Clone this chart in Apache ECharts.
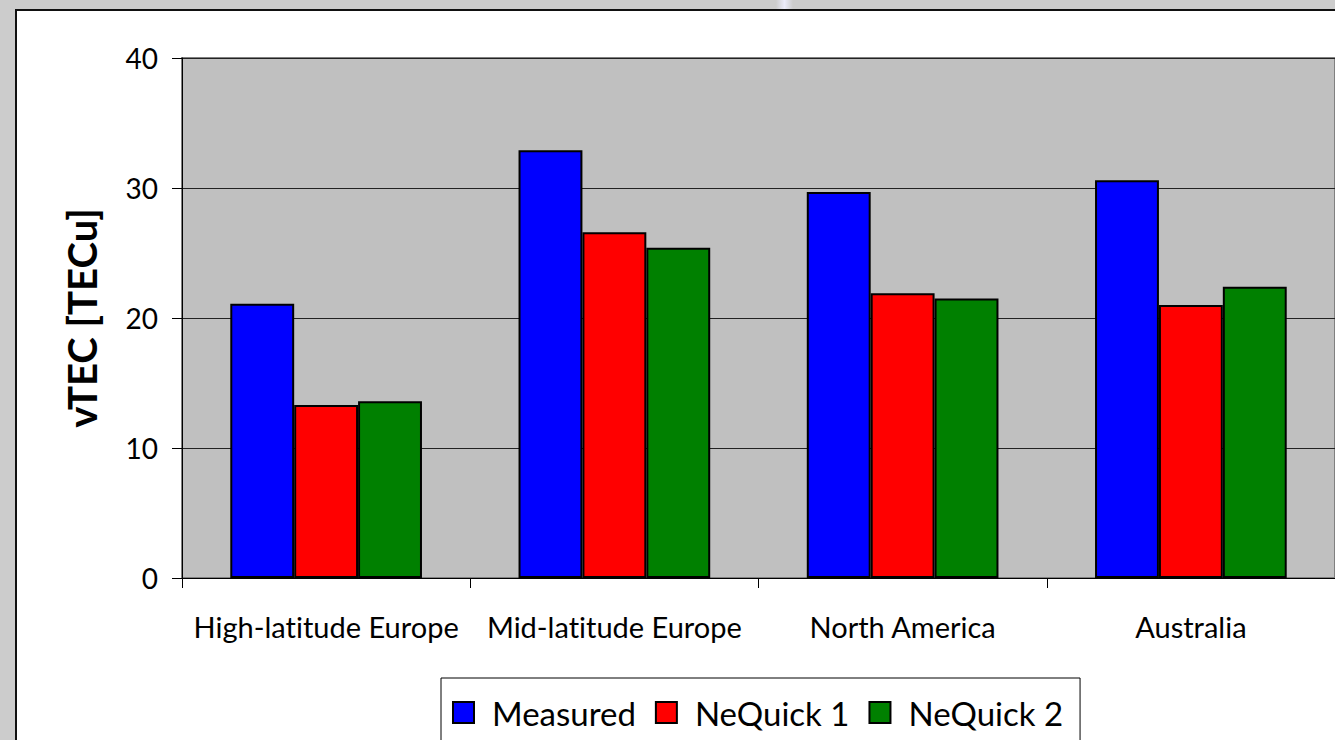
<!DOCTYPE html>
<html>
<head>
<meta charset="utf-8">
<title>vTEC by region</title>
<script src="https://cdn.jsdelivr.net/npm/echarts@6/dist/echarts.min.js"></script>
<style>
  html, body { margin: 0; padding: 0; background: #cccccc; }
  #chart { width: 1335px; height: 740px; }
  #chart text { font-variant-ligatures: none; font-feature-settings: "liga" 0; }
</style>
</head>
<body>
<div id="chart"></div>
<script>
// Regions and vertical TEC values (TECu)
const categories = ['High-latitude Europe', 'Mid-latitude Europe', 'North America', 'Australia'];
const measured = [21.1, 32.9, 29.7, 30.6];
const neQuick1 = [13.3, 26.6, 21.9, 21.0];
const neQuick2 = [13.6, 25.4, 21.5, 22.4];
const yTicks = { min: 0, max: 40, interval: 10 };

const FONT = 'Lato, "Open Sans", sans-serif';

const chart = echarts.init(document.getElementById('chart'), null, { renderer: 'svg' });

function barSeries(name, data, color) {
  return {
    name: name,
    type: 'bar',
    data: data,
    barGap: '0%',
    barCategoryGap: '33.5%',
    itemStyle: { color: color, borderColor: '#000', borderWidth: 2 },
    emphasis: { disabled: true }
  };
}

chart.setOption({
  backgroundColor: '#cccccc',
  animation: false,
  textStyle: { fontFamily: FONT },
  graphic: [
    {
      type: 'rect', z: -10, silent: true,
      shape: { x: 16, y: 10, width: 1400, height: 800 },
      style: { fill: '#ffffff', stroke: '#111', lineWidth: 2 }
    },
    {
      type: 'rect', z: -9, silent: true,
      shape: { x: 776, y: 0, width: 17, height: 9 },
      style: {
        fill: new echarts.graphic.LinearGradient(0, 0, 1, 0, [
          { offset: 0, color: 'rgba(235,235,250,0)' },
          { offset: 0.5, color: 'rgba(235,235,250,1)' },
          { offset: 1, color: 'rgba(235,235,250,0)' }
        ])
      }
    }
  ],
  grid: {
    left: 182, top: 58, width: 1156, height: 520,
    show: true, backgroundColor: '#c0c0c0',
    borderColor: '#808080', borderWidth: 2
  },
  legend: {
    left: 441, top: 678,
    padding: [18, 17, 18, 11],
    itemGap: 19,
    itemWidth: 21, itemHeight: 21,
    icon: 'rect',
    borderColor: '#000', borderWidth: 1,
    backgroundColor: '#fff',
    textStyle: { fontFamily: FONT, fontSize: 33, lineHeight: 24, color: '#000', padding: [2, 0, 0, 13] },
    data: ['Measured', 'NeQuick 1', 'NeQuick 2']
  },
  xAxis: {
    type: 'category',
    data: categories,
    boundaryGap: true,
    axisLine: { lineStyle: { color: '#000', width: 1 } },
    axisTick: { show: true, length: 10, lineStyle: { color: '#000' } },
    axisLabel: { color: '#000', fontSize: 29, margin: 34, fontFamily: FONT, interval: 0 },
    splitLine: { show: false }
  },
  yAxis: {
    type: 'value',
    min: yTicks.min, max: yTicks.max, interval: yTicks.interval,
    name: 'vTEC [TECu]',
    nameLocation: 'middle',
    nameGap: 80,
    nameTextStyle: { fontSize: 40, fontWeight: 'bold', color: '#000', fontFamily: FONT },
    axisLine: { show: true, lineStyle: { color: '#000', width: 1 } },
    axisTick: { show: true, length: 10, lineStyle: { color: '#000' } },
    axisLabel: { color: '#000', fontSize: 28, margin: 24, fontFamily: FONT },
    splitLine: { show: true, lineStyle: { color: '#222', width: 1 } }
  },
  series: [
    barSeries('Measured', measured, '#0000ff'),
    barSeries('NeQuick 1', neQuick1, '#ff0000'),
    barSeries('NeQuick 2', neQuick2, '#008000')
  ]
});
</script>
</body>
</html>
